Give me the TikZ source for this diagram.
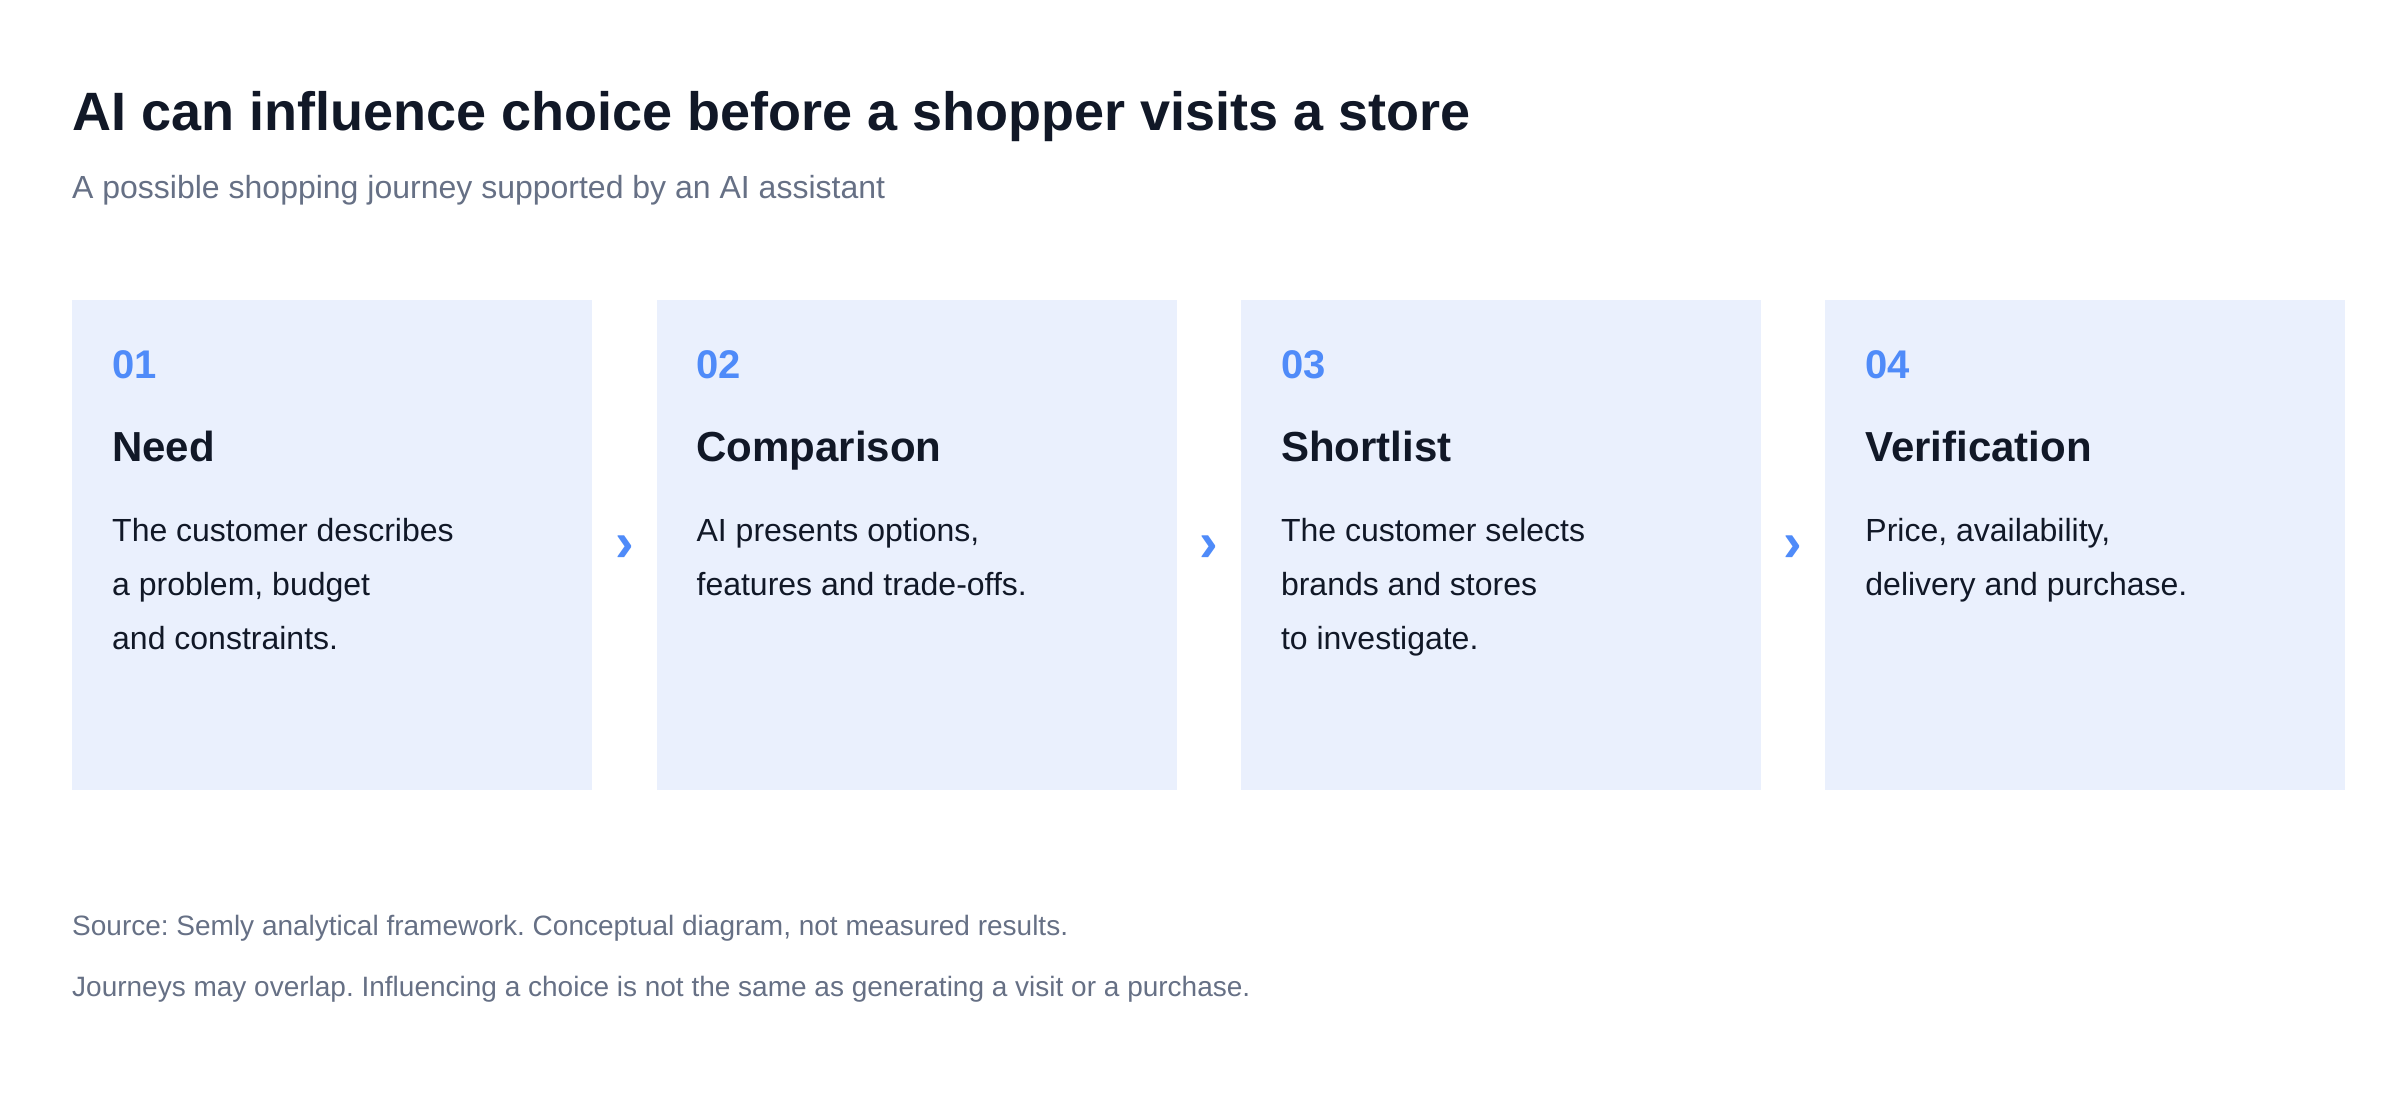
\documentclass[tikz,border=0pt]{standalone}
\usepackage{fontspec}
\setmainfont{Liberation Sans}
\usetikzlibrary{calc, positioning}
\frenchspacing
\definecolor{inkdark}{HTML}{111827}
\definecolor{inkgrey}{HTML}{667085}
\definecolor{boxfill}{HTML}{EAF0FD}
\definecolor{stepblue}{HTML}{4F8BF9}
\tikzstyle{headline} = [anchor=base west, inner sep=0pt, text=inkdark, font=\bfseries\fontsize{54}{60}\selectfont]
\tikzstyle{subline} = [anchor=base west, inner sep=0pt, text=inkgrey, font=\fontsize{32}{36}\selectfont]
\tikzstyle{note} = [anchor=base west, inner sep=0pt, text=inkgrey, font=\fontsize{28}{32}\selectfont]
\tikzstyle{stepbox} = [rectangle, fill=boxfill, minimum width=520pt, minimum height=490pt, inner sep=0pt]
\tikzstyle{stepnum} = [anchor=base west, inner sep=0pt, text=stepblue, font=\bfseries\fontsize{40}{48}\selectfont]
\tikzstyle{steptitle} = [anchor=base west, inner sep=0pt, text=inkdark, font=\bfseries\fontsize{42}{48}\selectfont]
\tikzstyle{steptext} = [anchor=north west, inner sep=0pt, align=left, text=inkdark, font=\fontsize{32}{54}\selectfont]
\tikzstyle{chevron} = [inner sep=0pt, yshift=-3pt, text=stepblue, font=\bfseries\fontsize{56}{60}\selectfont]
\begin{document}
\begin{tikzpicture}[x=1pt, y=-1pt, node distance = 64pt]
		\useasboundingbox (0,0) rectangle (2400,1100);
		\node (Title) [headline] at (72,130) {AI can influence choice before a shopper visits a store};
		\node (Subtitle) [subline] at (72,198) {A possible shopping journey supported by an AI assistant};
		\node (Need) [stepbox, anchor=north west] at (72,300) {};
		\node (Comparison) [stepbox, right = of Need] {};
		\node (Shortlist) [stepbox, right = of Comparison] {};
		\node (Verification) [stepbox, right = of Shortlist] {};
		\node (NeedNum) [stepnum] at ($(Need.north west)+(40,78)$) {01};
		\node (NeedHead) [steptitle] at ($(Need.north west)+(40,161)$) {Need};
		\node (NeedText) [steptext] at ($(Need.north west)+(40,218)$) {The customer describes\\a problem, budget\\and constraints.};
		\node (ComparisonNum) [stepnum] at ($(Comparison.north west)+(40,78)$) {02};
		\node (ComparisonHead) [steptitle] at ($(Comparison.north west)+(40,161)$) {Comparison};
		\node (ComparisonText) [steptext] at ($(Comparison.north west)+(40,218)$) {AI presents options,\\features and trade-offs.};
		\node (ShortlistNum) [stepnum] at ($(Shortlist.north west)+(40,78)$) {03};
		\node (ShortlistHead) [steptitle] at ($(Shortlist.north west)+(40,161)$) {Shortlist};
		\node (ShortlistText) [steptext] at ($(Shortlist.north west)+(40,218)$) {The customer selects\\brands and stores\\to investigate.};
		\node (VerificationNum) [stepnum] at ($(Verification.north west)+(40,78)$) {04};
		\node (VerificationHead) [steptitle] at ($(Verification.north west)+(40,161)$) {Verification};
		\node (VerificationText) [steptext] at ($(Verification.north west)+(40,218)$) {Price, availability,\\delivery and purchase.};
		\path (Need.east) -- node[chevron] (ChevronA) {›} (Comparison.west);
		\path (Comparison.east) -- node[chevron] (ChevronB) {›} (Shortlist.west);
		\path (Shortlist.east) -- node[chevron] (ChevronC) {›} (Verification.west);
		\node (Source) [note] at (72,935) {Source: Semly analytical framework. Conceptual diagram, not measured results.};
		\node (Caveat) [note] at (72,996) {Journeys may overlap. Influencing a choice is not the same as generating a visit or a purchase.};
\end{tikzpicture}
\end{document}
